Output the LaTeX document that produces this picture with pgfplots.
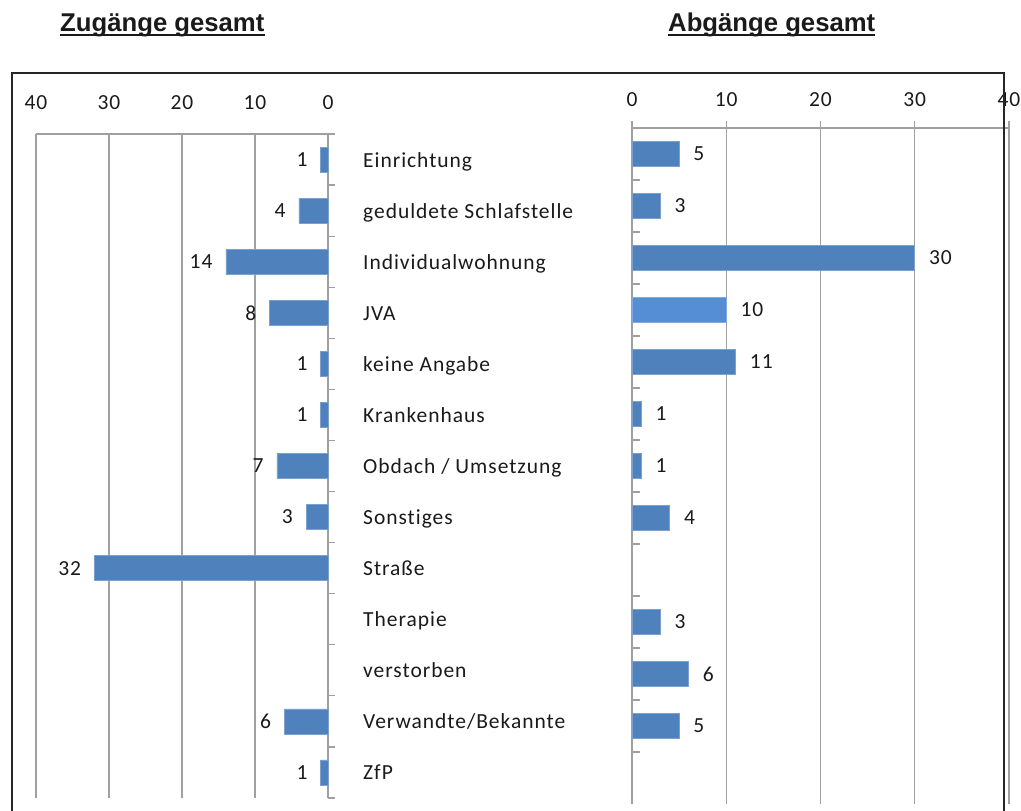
\documentclass[border=0pt]{standalone}
\usepackage{pgfplots}
\pgfplotsset{compat=1.18}
\usepackage{fontspec}
\setmainfont{Carlito}[LetterSpace=4.5,Ligatures=NoCommon]
\newfontfamily\titlefont{Liberation Sans}
\definecolor{barblue}{HTML}{4F81BD}
\definecolor{barlight}{HTML}{558ED5}
\definecolor{gridgray}{HTML}{A0A0A0}
\definecolor{txt}{HTML}{1A1A1A}
\begin{document}
\begin{tikzpicture}[x=1pt,y=1pt,font=\fontsize{21.5}{25}\selectfont]
\path[use as bounding box] (0,0) rectangle (1021,811);
% titles
\node[anchor=base west,inner sep=0pt,font=\titlefont\bfseries\fontsize{25.7}{30}\selectfont,txt] (t1) at (60,779) {Zugänge gesamt};
\draw[line width=2pt,txt] ([yshift=-3pt]t1.base west) -- ([yshift=-3pt]t1.base east);
\node[anchor=base west,inner sep=0pt,font=\titlefont\bfseries\fontsize{25.7}{30}\selectfont,txt] (t2) at (668,779) {Abgänge gesamt};
\draw[line width=2pt,txt] ([yshift=-3pt]t2.base west) -- ([yshift=-3pt]t2.base east);

% left panel: Zugaenge
\begin{axis}[
  at={(36pt,677pt)}, anchor=north west, scale only axis,
  width=292pt, height=664pt,
  xmin=-40, xmax=0, ymin=-0.5, ymax=12.5,
  axis line style={draw=none},
  xtick={-40,-30,-20,-10,0}, xticklabels={40,30,20,10,0},
  xtick pos=top, xticklabel pos=top,
  xmajorgrids, grid style={gridgray,line width=1.2pt},
  ytick={0,...,12},
  yticklabels={ZfP,Verwandte/Bekannte,verstorben,Therapie,Straße,Sonstiges,Obdach / Umsetzung,Krankenhaus,keine Angabe,JVA,Individualwohnung,geduldete Schlafstelle,Einrichtung},
  ytick pos=right, yticklabel pos=right,
  minor ytick={-0.5,0.5,...,12.5},
  major tick length=0pt, minor tick length=7pt, tick align=outside,
  tick style={gridgray,line width=1.2pt},
  yticklabel style={anchor=west,inner sep=0pt,xshift=35pt,text height=18pt,text depth=3pt,txt},
  xticklabel style={anchor=base,inner sep=0pt,yshift=24pt,txt},
  /pgf/number format/assume math mode=true,
  clip=false,
]
\draw[gridgray,line width=1.2pt] (axis cs:-40,12.5) -- (axis cs:0,12.5);
\addplot[xbar, bar width=25pt, fill=barblue, draw=barblue!75!white, line width=0.6pt,
  point meta=explicit symbolic, nodes near coords,
  nodes near coords style={anchor=east,inner sep=0pt,xshift=-13pt,txt}]
  coordinates {(-1,12)[1] (-4,11)[4] (-14,10)[14] (-8,9)[8] (-1,8)[1] (-1,7)[1] (-7,6)[7] (-3,5)[3] (-32,4)[32] (-6,1)[6] (-1,0)[1]};
\end{axis}

% right panel: Abgaenge
\begin{axis}[
  at={(632pt,683pt)}, anchor=north west, scale only axis,
  width=377pt, height=676pt,
  xmin=0, xmax=40, ymin=-0.5, ymax=12.5,
  axis line style={draw=none},
  xtick={0,10,20,30,40},
  xtick pos=top, xticklabel pos=top,
  xmajorgrids, grid style={gridgray,line width=1.2pt},
  extra x ticks={0,10,20,30,40}, extra x tick labels={},
  extra x tick style={tick align=outside, major tick length=7pt, grid=none},
  ytick={0.5,1.5,...,12.5}, yticklabels={},
  ytick pos=left, tick align=inside,
  major tick length=8pt,
  tick style={gridgray,line width=1.2pt},
  xticklabel style={anchor=base,inner sep=0pt,yshift=21pt,txt},
  /pgf/number format/assume math mode=true,
  clip=false,
]
\draw[gridgray,line width=1.2pt] (axis cs:0,12.5) -- (axis cs:40,12.5);
\addplot[xbar, bar width=25pt, fill=barblue, draw=barblue!75!white, line width=0.6pt,
  nodes near coords,
  nodes near coords style={anchor=west,inner sep=0pt,xshift=14pt,txt}]
  coordinates {(5,12) (3,11) (30,10) (11,8) (1,7) (1,6) (4,5) (3,3) (6,2) (5,1)};
\addplot[xbar, bar width=25pt, fill=barlight, draw=barlight!75!white, line width=0.6pt,
  nodes near coords,
  nodes near coords style={anchor=west,inner sep=0pt,xshift=14pt,txt}]
  coordinates {(10,9)};
\end{axis}

% outer frame (open at the bottom)
\draw[line width=2pt,black!85] (11.5,0) -- (11.5,738) -- (1004,738) -- (1004,0);
\end{tikzpicture}
\end{document}
